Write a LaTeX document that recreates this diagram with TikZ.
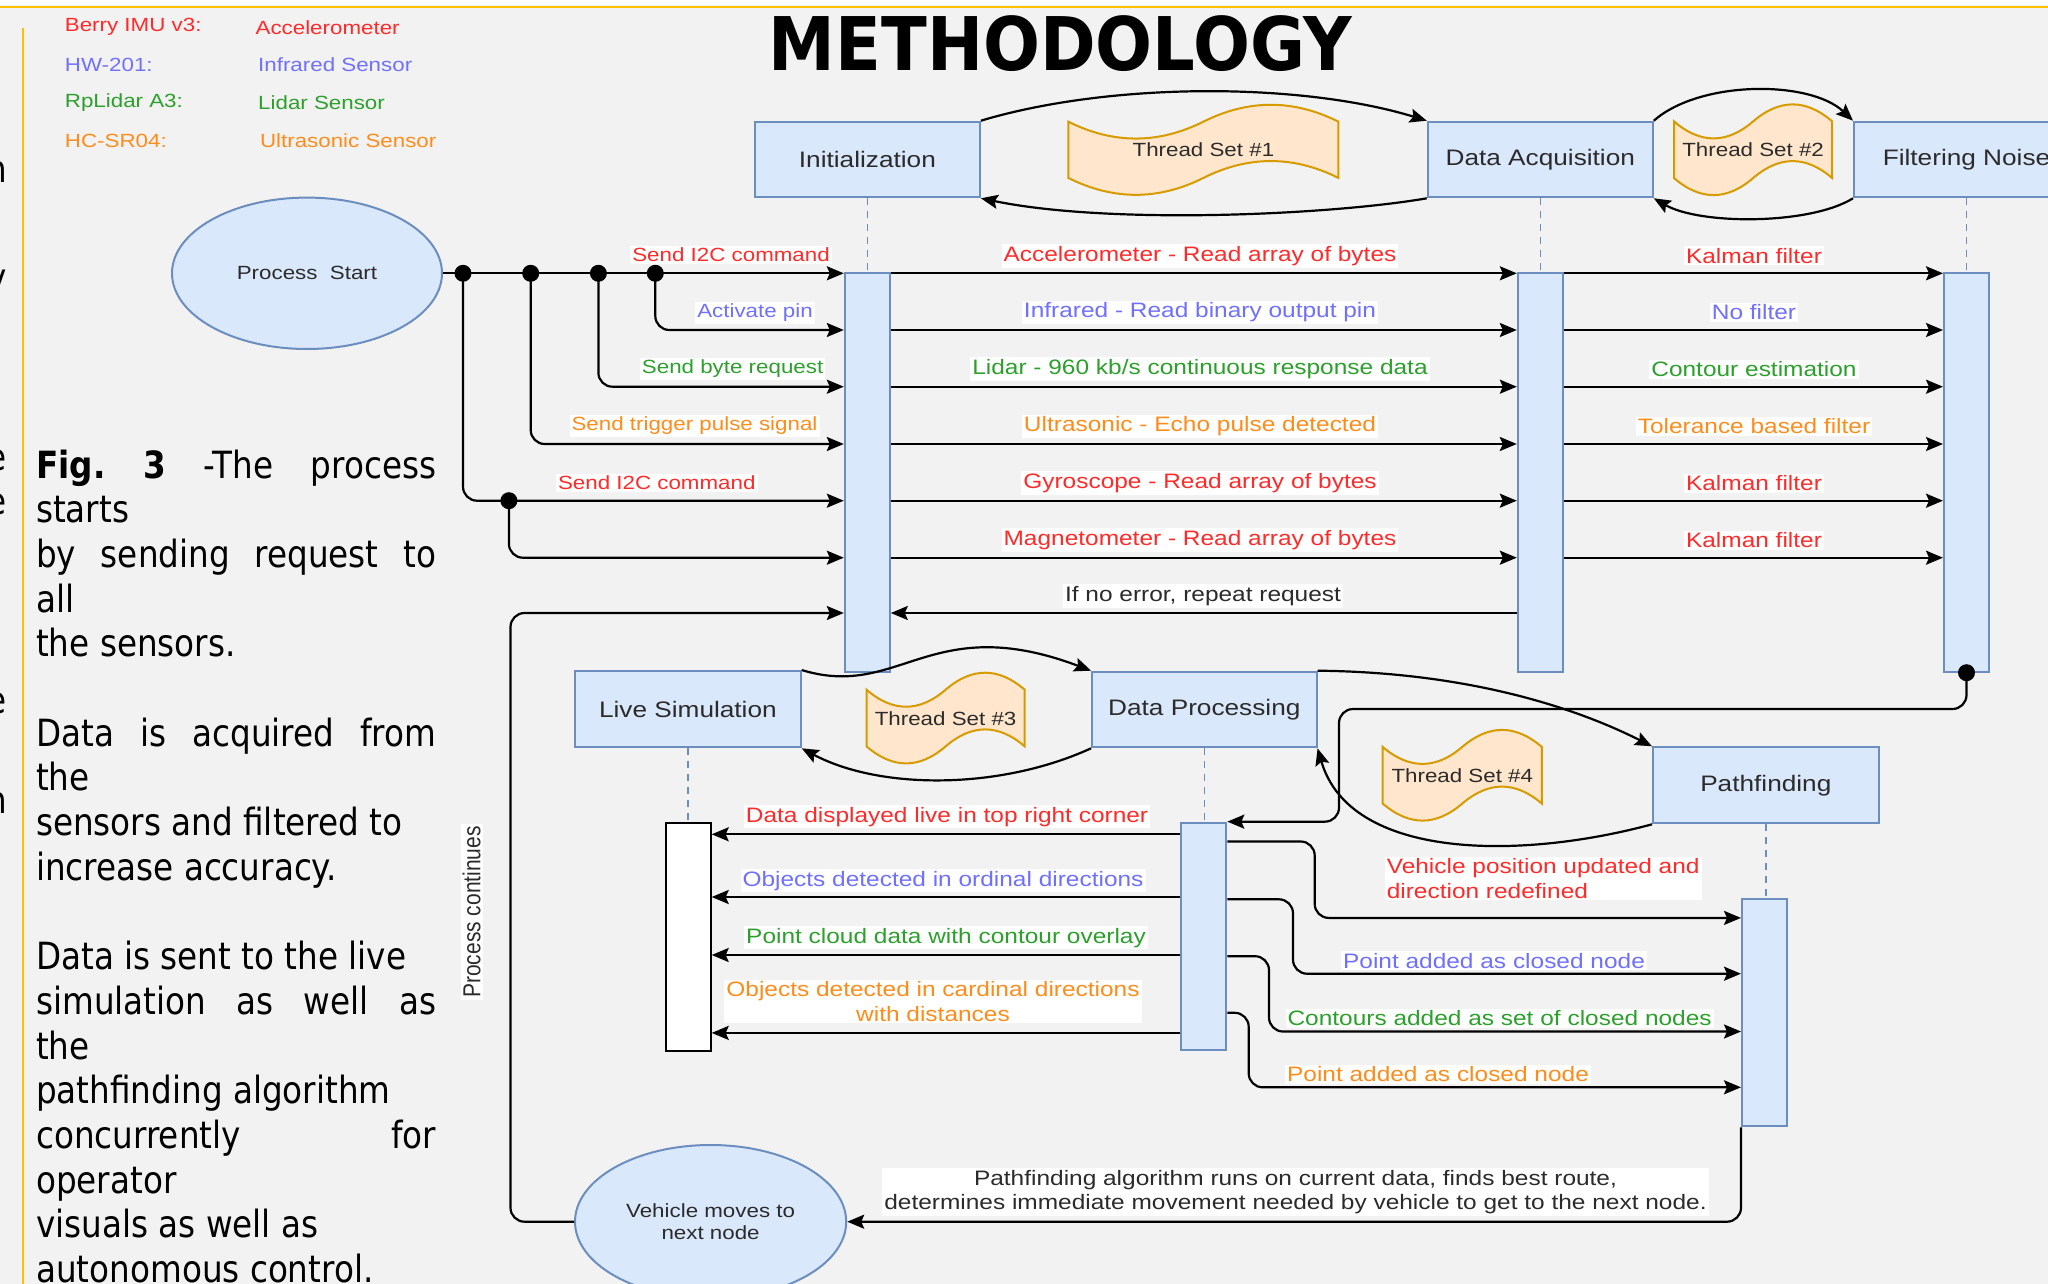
\documentclass[tikz,border=0pt]{standalone}
\usepackage{fontspec}
\usepackage{graphicx}
\usetikzlibrary{arrows.meta,shapes.geometric}
\setmainfont{Liberation Sans}
\newfontfamily\dfont[FakeStretch=1.17]{Liberation Sans}
\newfontfamily\dfontn{Liberation Sans}
\newfontfamily\cfont[FakeStretch=0.87]{DejaVu Sans}
\newfontfamily\tfont{DejaVu Sans}
\newcommand\fsm{\dfont\fontsize{19.1}{21.7}\selectfont}
\newcommand\fbg{\dfont\fontsize{20.9}{24.2}\selectfont}
\newcommand\fbx{\dfont\fontsize{22.4}{26}\selectfont}
\newcommand\capfont{\cfont\fontsize{37.5}{44.7}\selectfont\frenchspacing}
\definecolor{bgc}{HTML}{F2F2F2}
\definecolor{ylw}{HTML}{FFC000}
\definecolor{boxfill}{HTML}{DAE8FC}
\definecolor{boxline}{HTML}{6C8EBF}
\definecolor{tapefill}{HTML}{FFE6CC}
\definecolor{tapeline}{HTML}{D79B00}
\definecolor{cred}{HTML}{FF2A2A}
\definecolor{cblue}{HTML}{7070FF}
\definecolor{cgreen}{HTML}{2CA02C}
\definecolor{corange}{HTML}{FF8C1A}
\definecolor{txt}{HTML}{2B2B2B}
\tikzset{
 box/.style={draw=boxline, fill=boxfill, line width=2pt, inner sep=0pt, font=\fbx, text=txt},
 bar/.style={draw=boxline, fill=boxfill, line width=2pt, inner sep=0pt, minimum width=45pt},
 wbar/.style={draw=black, fill=white, line width=2pt, inner sep=0pt, minimum width=45pt},
 life/.style={draw=boxline, line width=1.6pt, dash pattern=on 7pt off 6pt},
 arr/.style={line width=2.2pt, -{Stealth[length=17pt,width=14pt,inset=3pt]}},
 lbl/.style={fill=white, inner sep=2pt, font=\fbg},
 slbl/.style={fill=white, inner sep=2pt, font=\fsm},
 dot/.style={circle, fill=black, inner sep=0pt, minimum size=17pt},
 tapeshape/.style={draw=tapeline, fill=tapefill, line width=2pt},
 thr/.style={inner sep=0pt, font=\fsm, text=txt},
 oval/.style={ellipse, draw=boxline, fill=boxfill, line width=2pt, inner sep=0pt, font=\fsm, text=txt, align=center},
 leg/.style={anchor=west, inner sep=0pt, font=\fsm},
 capt/.style={anchor=base west, inner sep=0pt, font=\capfont},
}
\newcommand\tapedraw[4]{%
 \begin{scope}[shift={(#1,#2)}, xscale=#3, yscale=#4]
 \draw[tapeshape] (0,0.2) .. controls (0.1667,0.44) and (0.3333,0.44) .. (0.5,0.2)
   .. controls (0.6667,-0.04) and (0.8333,-0.04) .. (1,0.2) -- (1,0.8)
   .. controls (0.8333,0.56) and (0.6667,0.56) .. (0.5,0.8)
   .. controls (0.3333,1.04) and (0.1667,1.04) .. (0,0.8) -- cycle;
 \end{scope}}
\begin{document}
\begin{tikzpicture}[x=1pt,y=-1pt]
\useasboundingbox (0,0) rectangle (2048,1284);
\fill[bgc] (0,0) rectangle (2048,1284);
\fill[white] (0,0) rectangle (2048,5.5);
\draw[ylw, line width=2.6pt] (0,7) -- (2048,7);
\draw[ylw, line width=1.6pt] (23,28) -- (23,1284);

% cut-off glyphs of the neighbouring column
\node[capt, anchor=base east] (g1) at (7,183) {n};
\node[capt, anchor=base east] (g2) at (7,290) {y};
\node[capt, anchor=base east] (g3) at (7,470) {e};
\node[capt, anchor=base east] (g4) at (7,514) {e};
\node[capt, anchor=base east] (g5) at (7,713) {e};
\node[capt, anchor=base east] (g6) at (7,813) {n};

% title
\node[anchor=base, inner sep=0pt] (title) at (1060.5,70.7) {\scalebox{0.906}[1]{\tfont\bfseries\fontsize{74}{80}\selectfont METHODOLOGY}};

% legend
\node[leg, text=cred] (k1) at (64.7,27.3) {Berry IMU v3:};
\node[leg, text=cred] (v1) at (255.4,27.3) {Accelerometer};
\node[leg, text=cblue] (k2) at (64.7,65) {HW-201:};
\node[leg, text=cblue] (v2) at (258,65) {Infrared Sensor};
\node[leg, text=cgreen] (k3) at (64.7,102.7) {RpLidar A3:};
\node[leg, text=cgreen] (v3) at (258,102.7) {Lidar Sensor};
\node[leg, text=corange] (k4) at (64.7,140.7) {HC-SR04:};
\node[leg, text=corange] (v4) at (259.8,140.7) {Ultrasonic Sensor};

% caption
\node[capt] (c1) at (36,478.0) {\makebox[400pt][s]{\textbf{Fig.} \textbf{3} -The process}};
\node[capt] (c2) at (36,522.7) {starts};
\node[capt] (c3) at (36,567.4) {\makebox[400pt][s]{by sending request to}};
\node[capt] (c4) at (36,612.1) {all};
\node[capt] (c5) at (36,656.8) {the sensors.};
\node[capt] (c7) at (36,746.2) {\makebox[400pt][s]{Data is acquired from}};
\node[capt] (c8) at (36,790.9) {the};
\node[capt] (c9) at (36,835.6) {sensors and filtered to};
\node[capt] (c10) at (36,880.3) {increase accuracy.};
\node[capt] (c12) at (36,969.7) {Data is sent to the live};
\node[capt] (c13) at (36,1014.4) {\makebox[400pt][s]{simulation as well as}};
\node[capt] (c14) at (36,1059.1) {the};
\node[capt] (c15) at (36,1103.8) {pathfinding algorithm};
\node[capt] (c16) at (36,1148.5) {\makebox[400pt][s]{concurrently for}};
\node[capt] (c17) at (36,1193.2) {operator};
\node[capt] (c18) at (36,1237.9) {visuals as well as};
\node[capt] (c19) at (36,1282.6) {autonomous control.};

% thread tapes
\tapedraw{1068.3}{102.9}{270.1}{93.8}
\tapedraw{1674}{102.5}{158.2}{94.5}
\tapedraw{866.5}{670.8}{158.2}{94.5}
\tapedraw{1382.7}{728}{159.1}{94.5}
\node[thr] (t1) at (1203.4,149.8) {Thread Set \#1};
\node[thr] (t2) at (1753.1,149.8) {Thread Set \#2};
\node[thr] (t3) at (945.6,718.3) {Thread Set \#3};
\node[thr] (t4) at (1462.3,775.5) {Thread Set \#4};

% boxes
\node[box, minimum width=225pt, minimum height=75.6pt] (init) at (867.4,159.5) {Initialization};
\node[box, minimum width=225pt, minimum height=75.6pt] (daq) at (1540.3,159.5) {Data Acquisition};
\node[box, minimum width=225pt, minimum height=75.6pt] (flt) at (1966.5,159.5) {Filtering Noise};
\node[box, minimum width=225.7pt, minimum height=76.3pt] (live) at (687.9,709.2) {Live Simulation};
\node[box, minimum width=224.5pt, minimum height=75.6pt] (dp) at (1204.3,709.5) {Data Processing};
\node[box, minimum width=225.6pt, minimum height=76pt] (pfd) at (1765.8,785.3) {Pathfinding};

% ellipses
\node[oval, minimum width=270pt, minimum height=151.4pt] (ps) at (307,273.3) {Process~~Start};
\node[oval, minimum width=271.2pt, minimum height=153.4pt] (veh) at (710.6,1221.7) {Vehicle moves to\\next node};

% activation bars
\node[bar, minimum height=398.4pt] (b1) at (867.3,472.5) {};
\node[bar, minimum height=398.4pt] (b2) at (1540.3,472.5) {};
\node[bar, minimum height=398.4pt] (b3) at (1966.5,472.5) {};
\node[wbar, minimum height=227.8pt] (bl) at (688.2,936.8) {};
\node[bar, minimum height=227.5pt] (b4) at (1203.8,936.4) {};
\node[bar, minimum height=227pt] (bp) at (1764.5,1012.9) {};

% lifelines
\draw[life] (init.south) -- (init.south |- b1.north);
\draw[life] (daq.south) -- (daq.south |- b2.north);
\draw[life] (flt.south) -- (flt.south |- b3.north);
\draw[life] (live.south) -- (live.south |- bl.north);
\draw[life] (dp.south) -- (dp.south |- b4.north);
\draw[life] (pfd.south) -- (pfd.south |- bp.north);

% thread arcs
\draw[arr] (init.north east) .. controls (1110,82) and (1300,82) .. (daq.north west);
\draw[arr] (daq.south west) .. controls (1330,215) and (1110,225) .. (init.south east);
\draw[arr] (daq.north east) .. controls (1700,80) and (1810,80) .. (flt.north west);
\draw[arr] (flt.south west) .. controls (1810,225) and (1700,225) .. (daq.south east);
\draw[arr] (live.north east) .. controls (900,700) and (930,610) .. (dp.north west);
\draw[arr] (dp.south west) .. controls (1000,790) and (880,790) .. (live.south east);
\draw[arr] (dp.north east) .. controls (1450,672) and (1560,700) .. (pfd.north west);
\draw[arr] (pfd.south west) .. controls (1520,860) and (1350,860) .. (dp.south east);

% row coordinates
\coordinate (r1) at (0,273.3);
\coordinate (r2) at (0,330);
\coordinate (r3) at (0,386.7);
\coordinate (r4) at (0,444);
\coordinate (r5) at (0,500.7);
\coordinate (r6) at (0,557.7);
\coordinate (rn) at (0,613);

% start bus
\draw[arr] (ps.east) -- (b1.west |- r1);
\node[dot] (d1) at (463,273.3) {};
\node[dot] (d2) at (530.7,273.3) {};
\node[dot] (d3) at (598.4,273.3) {};
\node[dot] (d4) at (655.3,273.3) {};
\node[dot] (d5) at (508.9,500.7) {};
\draw[arr, rounded corners=14pt] (d4.center) -- (d4.center |- r2) -- (b1.west |- r2);
\draw[arr, rounded corners=14pt] (d3.center) -- (d3.center |- r3) -- (b1.west |- r3);
\draw[arr, rounded corners=14pt] (d2.center) -- (d2.center |- r4) -- (b1.west |- r4);
\draw[arr, rounded corners=14pt] (d1.center) -- (d1.center |- r5) -- (b1.west |- r5);
\draw[arr, rounded corners=14pt] (d5.center) -- (d5.center |- r6) -- (b1.west |- r6);

% acquisition and filtering rows
\foreach \r in {r1,r2,r3,r4,r5,r6}{
 \draw[arr] (b1.east |- \r) -- (b2.west |- \r);
 \draw[arr] (b2.east |- \r) -- (b3.west |- \r);
}
\draw[arr] (b2.west |- rn) -- (b1.east |- rn);

% loop back
\coordinate (lp) at (510.5,613);
\draw[arr, rounded corners=14pt] (veh.west) -- (lp |- veh.west) -- (lp) -- (b1.west |- lp);

% filter to processing
\node[dot] (fd) at (b3.south) {};
\coordinate (fk) at (1339,709);
\draw[arr, rounded corners=14pt] (fd.center) -- (fd.center |- fk) -- (fk) -- (fk |- b4.north east) -- (b4.north east);

% processing to live simulation
\coordinate (la) at (0,834.3);
\coordinate (lb) at (0,897);
\coordinate (lc) at (0,955);
\coordinate (ld) at (0,1032.9);
\foreach \r in {la,lb,lc,ld}{
 \draw[arr] (b4.west |- \r) -- (bl.east |- \r);
}

% processing to pathfinding
\coordinate (sa) at (1314.7,841.5);  \coordinate (ea) at (0,917.9);
\coordinate (sb) at (1293,899.3);    \coordinate (eb) at (0,973.7);
\coordinate (sc) at (1269,956.2);    \coordinate (ec) at (0,1031.5);
\coordinate (sd) at (1248.7,1012.8); \coordinate (ed) at (0,1087.3);
\draw[arr, rounded corners=14pt] (b4.east |- sa) -- (sa) -- (sa |- ea) -- (bp.west |- ea);
\draw[arr, rounded corners=14pt] (b4.east |- sb) -- (sb) -- (sb |- eb) -- (bp.west |- eb);
\draw[arr, rounded corners=14pt] (b4.east |- sc) -- (sc) -- (sc |- ec) -- (bp.west |- ec);
\draw[arr, rounded corners=14pt] (b4.east |- sd) -- (sd) -- (sd |- ed) -- (bp.west |- ed);

% pathfinding to vehicle
\draw[arr, rounded corners=14pt] (bp.south west) -- (bp.south west |- veh.east) -- (veh.east);

% sender labels
\node[slbl, text=cred, anchor=east] (s1) at (832,255) {Send I2C command};
\node[slbl, text=cblue, anchor=east] (s2) at (815,313) {Activate pin};
\node[slbl, text=cgreen, anchor=east] (s3) at (825.5,369) {Send byte request};
\node[slbl, text=corange, anchor=east] (s4) at (819.7,425.7) {Send trigger pulse signal};
\node[slbl, text=cred, anchor=east] (s5) at (757.7,482.7) {Send I2C command};

% acquisition labels
\node[lbl, text=cred] (u1) at (1200,255.8) {Accelerometer - Read array of bytes};
\node[lbl, text=cblue] (u2) at (1200,312.5) {Infrared - Read binary output pin};
\node[lbl, text=cgreen] (u3) at (1200,369.2) {Lidar - 960 kb/s continuous response data};
\node[lbl, text=corange] (u4) at (1200,426.5) {Ultrasonic - Echo pulse detected};
\node[lbl, text=cred] (u5) at (1200,483.2) {Gyroscope - Read array of bytes};
\node[lbl, text=cred] (u6) at (1200,540.2) {Magnetometer - Read array of bytes};
\node[lbl, text=txt] (un) at (1203,596) {If no error, repeat request};

% filtering labels
\node[lbl, text=cred] (f1) at (1754,255.8) {Kalman filter};
\node[lbl, text=cblue] (f2) at (1754,312.5) {No filter};
\node[lbl, text=cgreen] (f3) at (1754,369.2) {Contour estimation};
\node[lbl, text=corange] (f4) at (1754,426.5) {Tolerance based filter};
\node[lbl, text=cred] (f5) at (1754,483.2) {Kalman filter};
\node[lbl, text=cred] (f6) at (1754,540.2) {Kalman filter};

% live simulation labels
\node[lbl, text=cred] (m1) at (947,816.7) {Data displayed live in top right corner};
\node[lbl, text=cblue] (m2) at (943,880.7) {Objects detected in ordinal directions};
\node[lbl, text=cgreen] (m3) at (946,937.7) {Point cloud data with contour overlay};
\node[lbl, text=corange, align=center] (m4) at (933,1001.6) {Objects detected in cardinal directions\\with distances};

% pathfinding labels
\node[lbl, text=cred, align=left, anchor=west] (p1) at (1384.6,878.6) {Vehicle position updated and\\direction redefined};
\node[lbl, text=cblue] (p2) at (1494,960.7) {Point added as closed node};
\node[lbl, text=cgreen] (p3) at (1499.6,1018.4) {Contours added as set of closed nodes};
\node[lbl, text=corange] (p4) at (1438,1074.3) {Point added as closed node};

% bottom label
\node[lbl, text=txt, align=center] (bt) at (1295.5,1191.7) {Pathfinding algorithm runs on current data, finds best route,\\determines immediate movement needed by vehicle to get to the next node.};

% process continues
\node[fill=white, inner sep=2pt, text=txt] (pc) at (471.7,912) {\rotatebox{90}{\scalebox{1}[1.17]{\dfontn\fontsize{21}{24}\selectfont Process continues}}};
\end{tikzpicture}
\end{document}
